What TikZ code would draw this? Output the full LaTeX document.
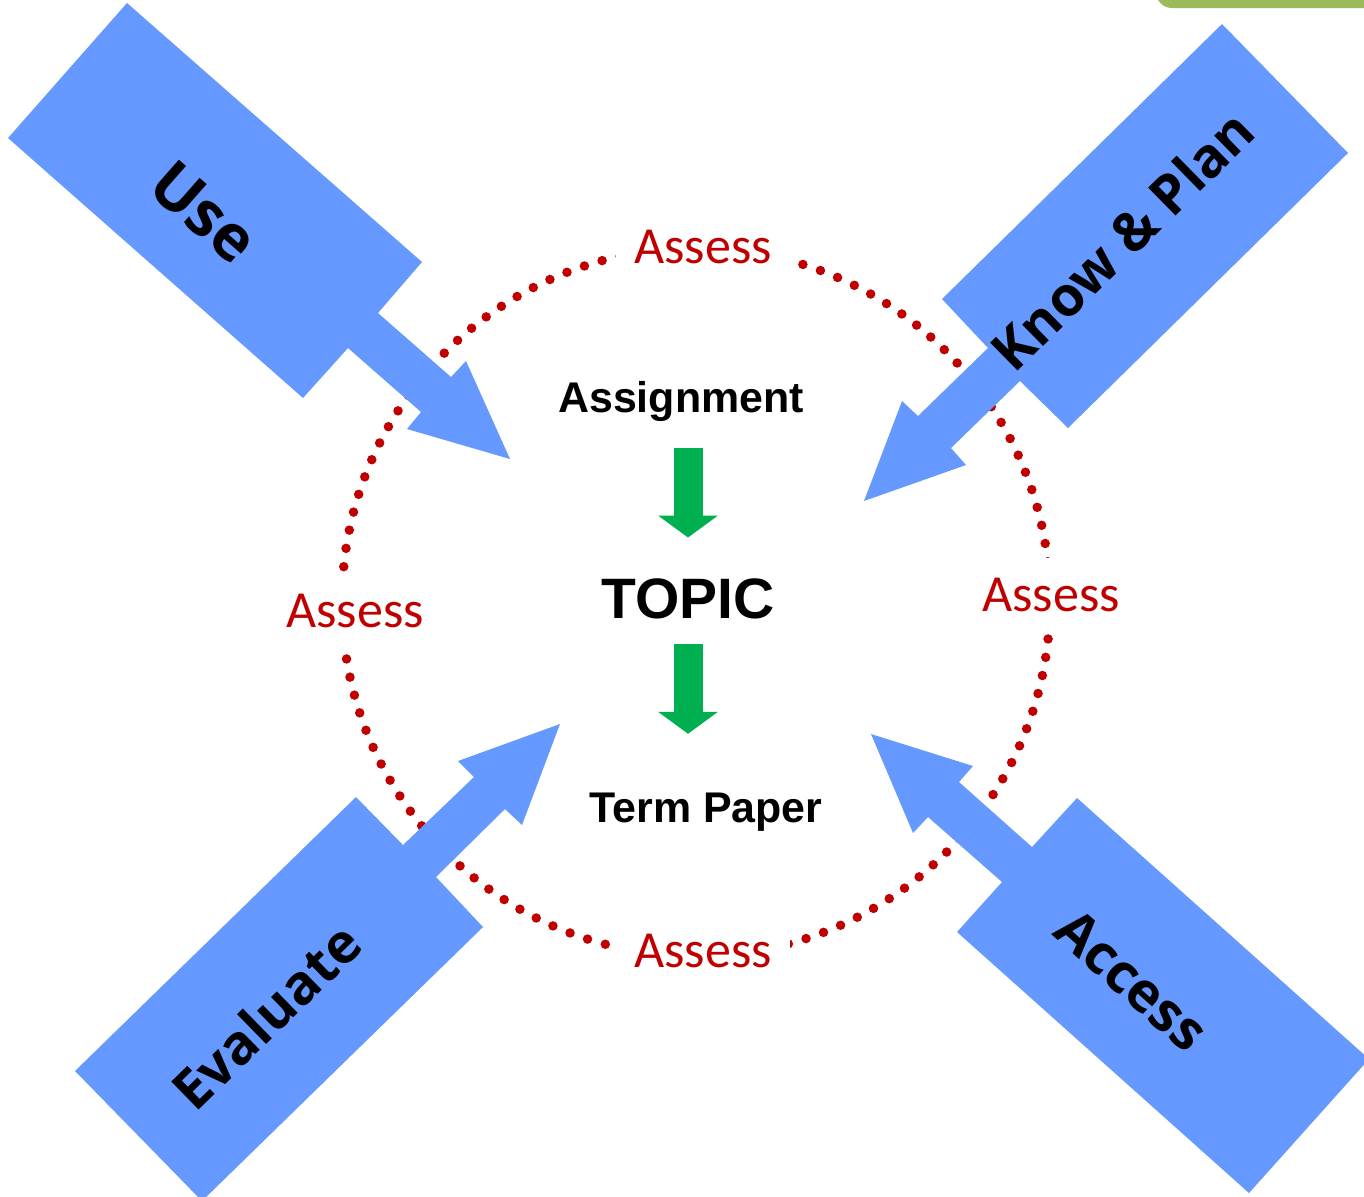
\documentclass[tikz,border=0pt]{standalone}
\usepackage{fontspec}
\newfontfamily\calfont{Carlito}
\newfontfamily\opfont{Open Sans}
\newfontfamily\arfont{Liberation Sans}
\usetikzlibrary{arrows.meta}
\definecolor{arrblue}{HTML}{6699FF}
\definecolor{dotred}{HTML}{C00000}
\definecolor{flowgreen}{HTML}{00B050}
\definecolor{topgreen}{HTML}{9BBB59}

\begin{document}
\begin{tikzpicture}[x=0.01cm, y=-0.01cm,
    assess/.style={font=\calfont\fontsize{14.8}{16}\selectfont, text=dotred, fill=white, inner xsep=0.18cm, inner ysep=0.2cm, anchor=base},
    blk/.style={fill=arrblue},
    lbl/.style={font=\opfont\bfseries\fontsize{15.6}{17}\selectfont, inner sep=0pt},
    ctr/.style={font=\arfont\bfseries\fontsize{12.2}{14}\selectfont, inner sep=0pt, anchor=base},
    flow/.style={draw=flowgreen, line width=0.29cm, -{Triangle[width=0.6cm, length=0.22cm, line width=0pt]}}
  ]
  \useasboundingbox (0,0) rectangle (1364,1196);
  \clip (0,0) rectangle (1364,1196);

  \fill[topgreen, rounded corners=0.16cm] (1156,-40) rectangle (1420,8);

  % dotted ring
  \draw[dotred, line width=0.095cm, line cap=round, dash pattern=on 0pt off 0.185cm] (696,602) circle[radius=354];

  \node[assess] (as-n) at (703,263) {Assess};
  \node[assess] (as-w) at (355,627) {Assess};
  \node[assess] (as-e) at (1051,611) {Assess};
  \node[assess] (as-s) at (703,967) {Assess};

  % block arrows
  \fill[blk] (127,3) -- (422,262) -- (378,313) -- (451,377) -- (466,361) -- (510,459) -- (407,429) -- (421,412) -- (348,348) -- (303,398) -- (8,138) -- cycle;
  \fill[blk] (1222,24) -- (1348,153) -- (1068,428) -- (1020,381) -- (951,448) -- (966,465) -- (864,501) -- (902,401) -- (918,416) -- (988,348) -- (942,299) -- cycle;
  \fill[blk] (75,1071) -- (356,797) -- (403,845) -- (474,777) -- (458,761) -- (560,724) -- (522,825) -- (505,809) -- (436,877) -- (483,927) -- (202,1201) -- cycle;
  \fill[blk] (871,734) -- (973,766) -- (959,782) -- (1032,847) -- (1077,798) -- (1369,1059) -- (1249,1193) -- (957,932) -- (1002,882) -- (928,817) -- (913,833) -- cycle;

  \node[lbl, rotate=-41.3, font=\opfont\bfseries\fontsize{18}{20}\selectfont] (use) at (204,212) {Use};
  \node[lbl, rotate=44.5] (kp) at (1122,240) {Know \& Plan};
  \node[lbl, rotate=44.3] (eval) at (266,1016) {Evaluate};
  \node[lbl, rotate=-41.8] (acc) at (1132,980) {Access};

  \node[ctr] (asg) at (681,412) {Assignment};
  \node[ctr, font=\arfont\bfseries\fontsize{16.2}{18}\selectfont] (topic) at (688,618) {TOPIC};
  \node[ctr] (tp) at (706,822) {Term Paper};

  \draw[flow, shorten <=0.26cm, shorten >=0.4cm] (asg.south -| topic) -- (topic.north);
  \draw[flow, shorten <=0.25cm, shorten >=0.58cm] (topic.south) -- (topic.south |- tp.north);

\end{tikzpicture}
\end{document}
